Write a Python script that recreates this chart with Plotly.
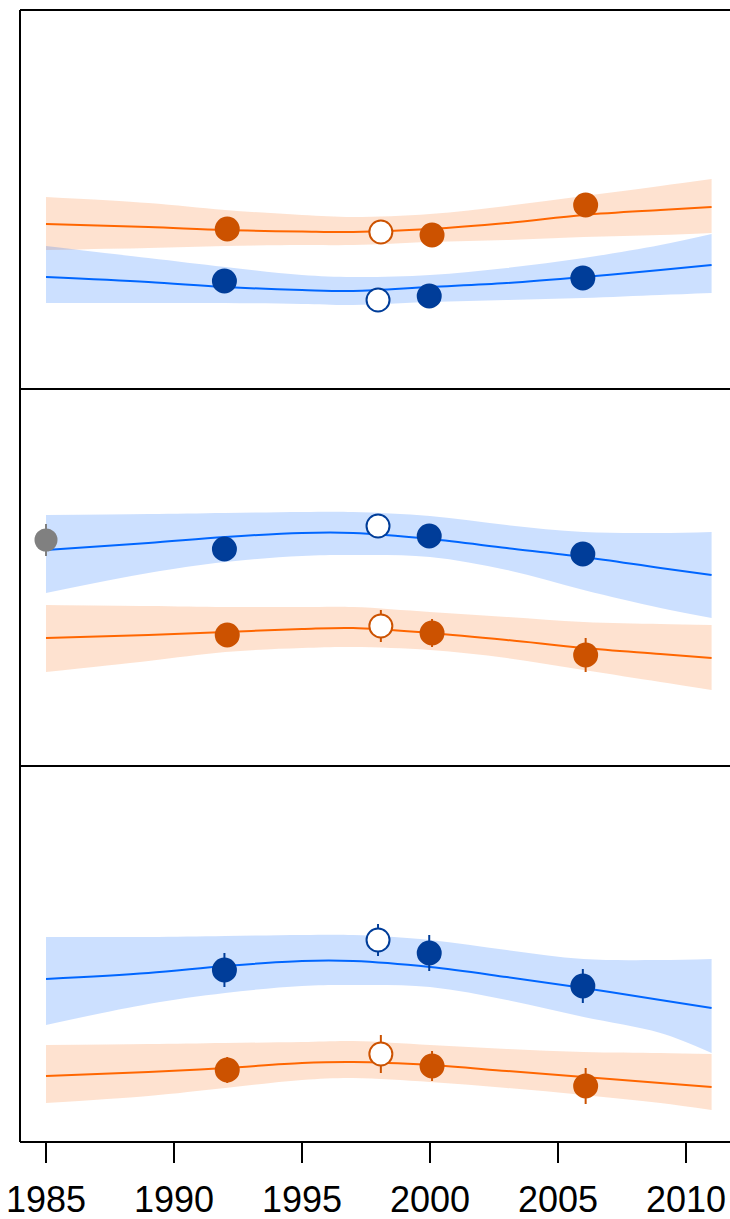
import plotly.graph_objects as go
from plotly.subplots import make_subplots

# ---------------- data ----------------
curve_years = [1985, 1989, 1992, 1995, 1997, 2000, 2003, 2006, 2009, 2011]
obs_years = [1992, 1998, 2000, 2006]
open_flags = [False, True, False, False]   # 1998 survey shown as open circle
tick_years = [1985, 1990, 1995, 2000, 2005, 2010]

# Panel 1
p1_orange_fit = [16.5, 16.2, 15.9, 15.75, 15.7, 16.0, 16.6, 17.4, 17.9, 18.2]
p1_orange_hi = [19.2, 18.6, 17.9, 17.4, 17.2, 17.5, 18.3, 19.3, 20.3, 21.0]
p1_orange_lo = [13.9, 14.1, 14.3, 14.4, 14.4, 14.7, 14.9, 15.2, 15.4, 15.6]
p1_blue_fit = [11.2, 10.7, 10.2, 9.9, 9.8, 10.2, 10.6, 11.2, 11.9, 12.4]
p1_blue_hi = [14.3, 13.1, 12.2, 11.4, 11.2, 11.4, 12.1, 13.1, 14.4, 15.5]
p1_blue_lo = [8.6, 8.6, 8.6, 8.5, 8.4, 8.7, 8.9, 9.1, 9.4, 9.6]
p1_orange_obs = [16.0, 15.7, 15.4, 18.4]
p1_orange_err = [0.4, 0.4, 0.4, 0.4]
p1_blue_obs = [10.8, 8.9, 9.3, 11.1]
p1_blue_err = [0.4, 0.4, 0.4, 0.4]

# Panel 2
p2_blue_fit = [21.6, 22.3, 22.9, 23.3, 23.3, 22.7, 21.8, 20.9, 19.8, 19.1]
p2_blue_hi = [25.1, 25.2, 25.3, 25.4, 25.4, 25.0, 24.1, 23.4, 23.3, 23.4]
p2_blue_lo = [17.3, 19.3, 20.4, 21.0, 21.1, 20.9, 19.6, 17.6, 15.8, 14.8]
p2_orange_fit = [12.8, 13.1, 13.4, 13.7, 13.8, 13.3, 12.6, 11.8, 11.2, 10.8]
p2_orange_hi = [16.1, 16.0, 15.9, 15.9, 15.9, 15.4, 14.9, 14.4, 14.2, 14.1]
p2_orange_lo = [9.4, 10.5, 11.4, 11.8, 11.9, 11.6, 10.8, 9.6, 8.4, 7.6]
p2_blue_obs = [21.7, 24.0, 23.0, 21.2]
p2_blue_err = [0.8, 0.8, 1.2, 1.2]
p2_orange_obs = [13.1, 14.0, 13.3, 11.1]
p2_orange_err = [0.9, 1.6, 1.4, 1.7]
p2_gray_year = [1985]
p2_gray_obs = [22.6]
p2_gray_err = [1.6]

# Panel 3
p3_blue_fit = [16.3, 16.9, 17.6, 18.1, 18.1, 17.5, 16.5, 15.4, 14.2, 13.4]
p3_blue_hi = [20.5, 20.5, 20.6, 20.7, 20.7, 20.2, 19.2, 18.3, 18.2, 18.3]
p3_blue_lo = [11.7, 13.8, 14.9, 15.6, 15.7, 15.5, 14.2, 12.5, 10.9, 8.9]
p3_orange_fit = [6.6, 7.0, 7.4, 7.9, 8.0, 7.7, 7.1, 6.5, 5.9, 5.5]
p3_orange_hi = [9.7, 9.8, 9.9, 10.0, 10.1, 9.7, 9.3, 9.0, 8.9, 8.8]
p3_orange_lo = [3.9, 4.6, 5.4, 6.2, 6.4, 6.0, 5.4, 4.7, 3.9, 3.2]
p3_blue_obs = [17.2, 20.2, 18.9, 15.6]
p3_blue_err = [1.7, 1.6, 1.8, 1.7]
p3_orange_obs = [7.2, 8.8, 7.6, 5.6]
p3_orange_err = [1.3, 1.9, 1.5, 1.8]

# ---------------- styles ----------------
ORANGE_LINE = "#FF6600"
ORANGE_BAND = "rgba(250,110,20,0.2)"
ORANGE_PT = "#CC5200"
BLUE_LINE = "#0066FF"
BLUE_BAND = "rgba(0,100,255,0.2)"
BLUE_PT = "#003D99"
GRAY_PT = "#808080"
ORANGE_DX = 0.08
BLUE_DX = -0.03
MSIZE = 23

W, H = 730, 1219
ML, MR, MT, MB = 20, 0, 10, 77
panel_px = [(10, 389), (389, 766), (766, 1142)]
plot_top = MT
plot_bot = H - MB
plot_h = plot_bot - plot_top

fig = make_subplots(rows=3, cols=1, shared_xaxes=True, vertical_spacing=0)


def add_band(row, hi, lo, fill, line_color, fit):
    fig.add_trace(go.Scatter(x=curve_years, y=lo, mode="lines",
                             line=dict(width=0, shape="spline", smoothing=1.0),
                             hoverinfo="skip", showlegend=False), row=row, col=1)
    fig.add_trace(go.Scatter(x=curve_years, y=hi, mode="lines", fill="tonexty",
                             fillcolor=fill,
                             line=dict(width=0, shape="spline", smoothing=1.0),
                             hoverinfo="skip", showlegend=False), row=row, col=1)
    fig.add_trace(go.Scatter(x=curve_years, y=fit, mode="lines",
                             line=dict(width=2, color=line_color, shape="spline", smoothing=1.0),
                             hoverinfo="skip", showlegend=False), row=row, col=1)


def add_points(row, years, vals, errs, color, dx):
    xs = [y + dx for y in years]
    fills = ["white" if o else color for o in open_flags]
    fig.add_trace(go.Scatter(
        x=xs, y=vals, mode="markers",
        marker=dict(size=MSIZE, color=fills, line=dict(width=2, color=color)),
        error_y=dict(type="data", array=errs, visible=True, thickness=2, width=0, color=color),
        showlegend=False), row=row, col=1)


panels = [
    (1, [(p1_orange_hi, p1_orange_lo, ORANGE_BAND, ORANGE_LINE, p1_orange_fit),
         (p1_blue_hi, p1_blue_lo, BLUE_BAND, BLUE_LINE, p1_blue_fit)],
     [(p1_orange_obs, p1_orange_err, ORANGE_PT, ORANGE_DX),
      (p1_blue_obs, p1_blue_err, BLUE_PT, BLUE_DX)]),
    (2, [(p2_orange_hi, p2_orange_lo, ORANGE_BAND, ORANGE_LINE, p2_orange_fit),
         (p2_blue_hi, p2_blue_lo, BLUE_BAND, BLUE_LINE, p2_blue_fit)],
     [(p2_orange_obs, p2_orange_err, ORANGE_PT, ORANGE_DX),
      (p2_blue_obs, p2_blue_err, BLUE_PT, BLUE_DX)]),
    (3, [(p3_orange_hi, p3_orange_lo, ORANGE_BAND, ORANGE_LINE, p3_orange_fit),
         (p3_blue_hi, p3_blue_lo, BLUE_BAND, BLUE_LINE, p3_blue_fit)],
     [(p3_orange_obs, p3_orange_err, ORANGE_PT, ORANGE_DX),
      (p3_blue_obs, p3_blue_err, BLUE_PT, BLUE_DX)]),
]

for row, bands, pts in panels:
    for b in bands:
        add_band(row, *b)
    if row == 2:
        fig.add_trace(go.Scatter(
            x=p2_gray_year, y=p2_gray_obs, mode="markers",
            marker=dict(size=MSIZE, color=GRAY_PT, line=dict(width=0)),
            error_y=dict(type="data", array=p2_gray_err, visible=True, thickness=2,
                         width=0, color=GRAY_PT),
            showlegend=False, cliponaxis=False), row=2, col=1)
    for p in pts:
        add_points(row, obs_years, *p)

# axes: 1985 sits at page x=46, 25.6 px per year
x0 = 1985 - (46 - ML) / 25.6
x1 = x0 + (W - ML - MR) / 25.6
for i, (top, bot) in enumerate(panel_px, start=1):
    d0 = (plot_bot - bot) / plot_h
    d1 = (plot_bot - top) / plot_h
    fig.update_yaxes(row=i, col=1, domain=[d0, d1], range=[0, (bot - top) / 10],
                     showticklabels=False, showgrid=False, zeroline=False,
                     showline=False, ticks="")
    fig.update_xaxes(row=i, col=1, range=[x0, x1], showgrid=False, zeroline=False,
                     showline=False)

fig.update_xaxes(row=1, col=1, showticklabels=False, ticks="")
fig.update_xaxes(row=2, col=1, showticklabels=False, ticks="")
fig.update_xaxes(row=3, col=1, tickvals=tick_years, ticktext=[str(t) for t in tick_years],
                 ticks="outside", ticklen=20, tickwidth=1.5, tickcolor="black",
                 showticklabels=True, ticklabelstandoff=6,
                 tickfont=dict(family="Liberation Sans, Arial, sans-serif", size=36, color="black"))

# panel borders (right edge runs off the page)
shapes = []
line = dict(color="black", width=2)
for top, bot in panel_px:
    yt = (plot_bot - top) / plot_h
    yb = (plot_bot - bot) / plot_h
    shapes.append(dict(type="line", xref="paper", yref="paper", x0=0, x1=1.05, y0=yt, y1=yt, line=line))
    shapes.append(dict(type="line", xref="paper", yref="paper", x0=0, x1=1.05, y0=yb, y1=yb, line=line))
shapes.append(dict(type="line", xref="paper", yref="paper", x0=0, x1=0, y0=0, y1=1, line=line))

fig.update_layout(width=W, height=H, margin=dict(l=ML, r=MR, t=MT, b=MB),
                  plot_bgcolor="white", paper_bgcolor="white", shapes=shapes,
                  showlegend=False, hovermode=False)

fig.write_html("out.html", config={"displayModeBar": False},
               post_script="document.body.style.margin='0';document.body.style.overflow='hidden';")
